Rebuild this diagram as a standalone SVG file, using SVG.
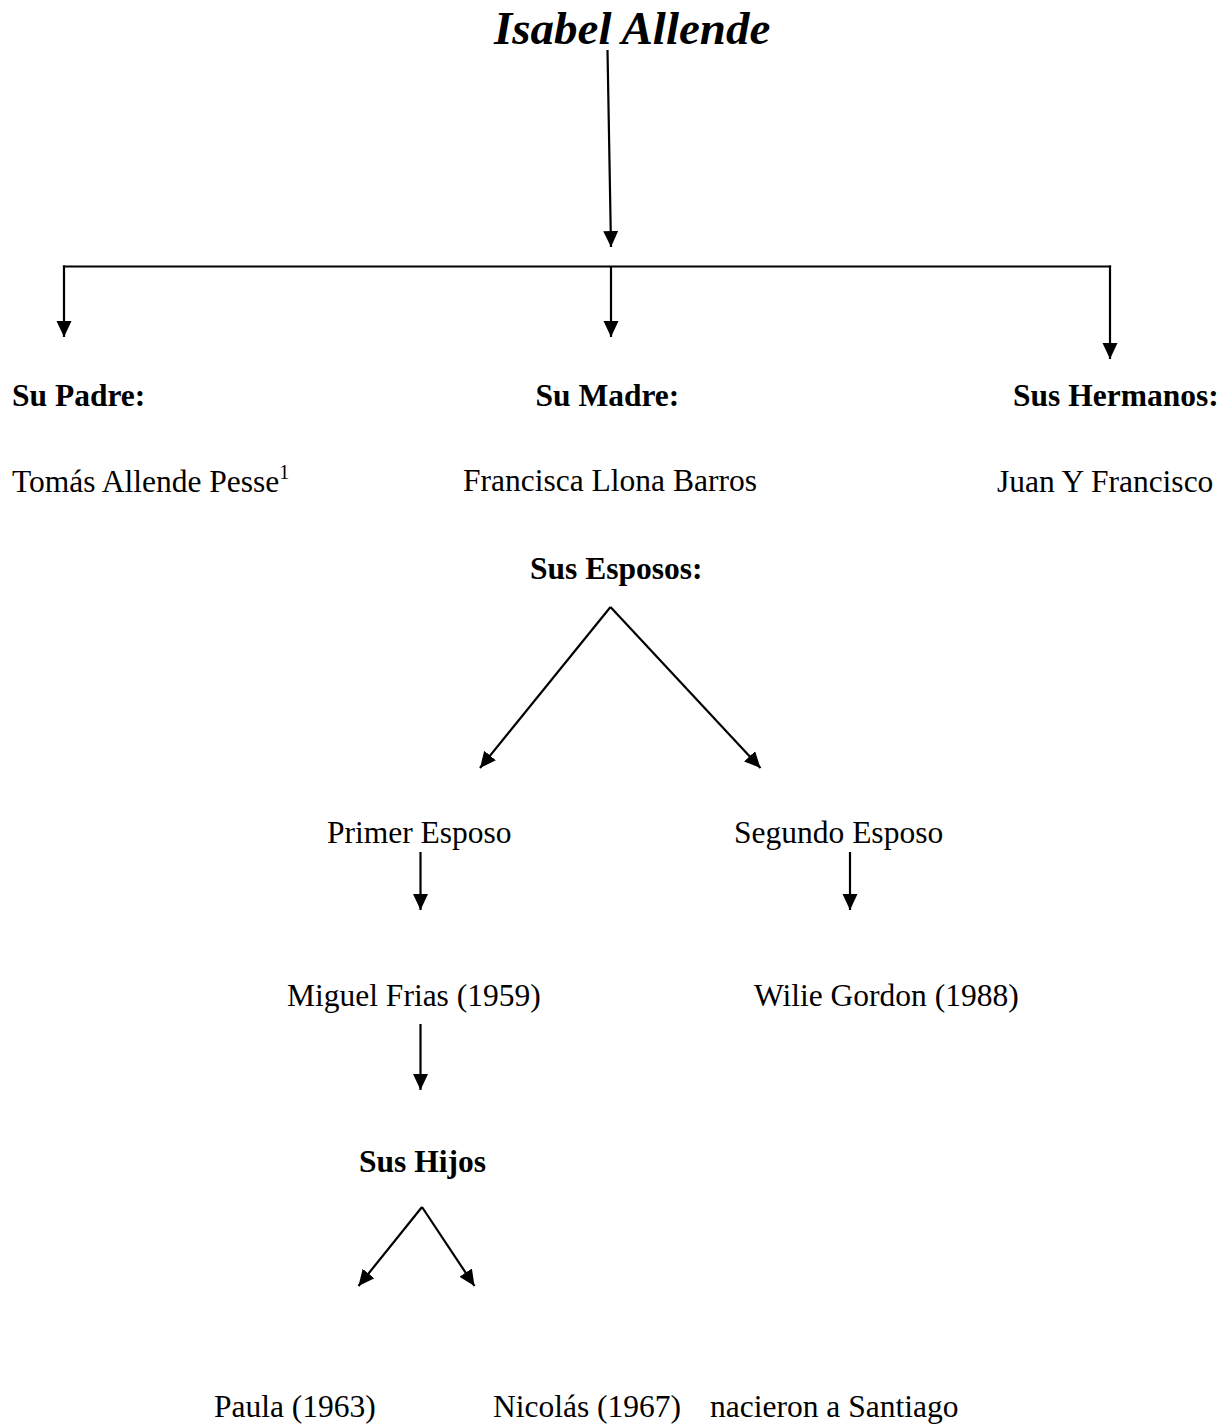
<svg xmlns="http://www.w3.org/2000/svg" width="1230" height="1425" viewBox="0 0 1230 1425">
<style>
  text { font-family: "Liberation Serif", "Times New Roman", serif; font-size: 31.5px; fill: #000; }
  .b { font-weight: bold; }
  .title { font-weight: bold; font-style: italic; font-size: 47px; }
  .sup { font-size: 20px; }
  .c line, .c polyline { stroke: #000; stroke-width: 2.2; fill: none; }
</style>
<defs>
  <marker id="ah" markerUnits="userSpaceOnUse" markerWidth="18" markerHeight="18" refX="16" refY="7.5" orient="auto">
    <path d="M0,0 L16,7.5 L0,15 z" fill="#000"/>
  </marker>
</defs>
<rect width="1230" height="1425" fill="#fff"/>

<g id="connectors" class="c">
  <line x1="607.5" y1="50" x2="611" y2="247" marker-end="url(#ah)"/>
  <polyline points="64,267 64,266.5 1110,266.5 1110,267"/>
  <line x1="64" y1="265.5" x2="64" y2="337" marker-end="url(#ah)"/>
  <line x1="611" y1="266.5" x2="611" y2="337" marker-end="url(#ah)"/>
  <line x1="1110" y1="265.5" x2="1110" y2="359" marker-end="url(#ah)"/>
  <line x1="610.5" y1="607" x2="480" y2="768" marker-end="url(#ah)"/>
  <line x1="610.5" y1="607" x2="760.5" y2="768" marker-end="url(#ah)"/>
  <line x1="420.5" y1="852" x2="420.5" y2="910" marker-end="url(#ah)"/>
  <line x1="850" y1="852" x2="850" y2="910" marker-end="url(#ah)"/>
  <line x1="420.5" y1="1024" x2="420.5" y2="1090" marker-end="url(#ah)"/>
  <line x1="422" y1="1207" x2="358.5" y2="1286" marker-end="url(#ah)"/>
  <line x1="422" y1="1207" x2="474.5" y2="1286" marker-end="url(#ah)"/>
</g>

<g id="n-title"><text class="title" x="494" y="44">Isabel Allende</text></g>
<g id="n-padre">
  <text class="b" x="12" y="406">Su Padre:</text>
  <text x="12" y="492">Tomás Allende Pesse<tspan class="sup" dy="-13">1</tspan></text>
</g>
<g id="n-madre">
  <text class="b" x="535.5" y="406">Su Madre:</text>
  <text x="463" y="491">Francisca Llona Barros</text>
</g>
<g id="n-hermanos">
  <text class="b" x="1013" y="406">Sus Hermanos:</text>
  <text x="997" y="492">Juan Y Francisco</text>
</g>
<g id="n-esposos"><text class="b" x="530" y="579">Sus Esposos:</text></g>
<g id="n-primer"><text x="327" y="843">Primer Esposo</text></g>
<g id="n-segundo"><text x="734" y="843">Segundo Esposo</text></g>
<g id="n-miguel"><text x="287" y="1006">Miguel Frias (1959)</text></g>
<g id="n-wilie"><text x="754" y="1006">Wilie Gordon (1988)</text></g>
<g id="n-hijos"><text class="b" x="359" y="1172">Sus Hijos</text></g>
<g id="n-paula"><text x="214" y="1417">Paula (1963)</text></g>
<g id="n-nicolas"><text x="493" y="1417">Nicolás (1967)</text></g>
<g id="n-santiago"><text x="710" y="1417">nacieron a Santiago</text></g>
</svg>
